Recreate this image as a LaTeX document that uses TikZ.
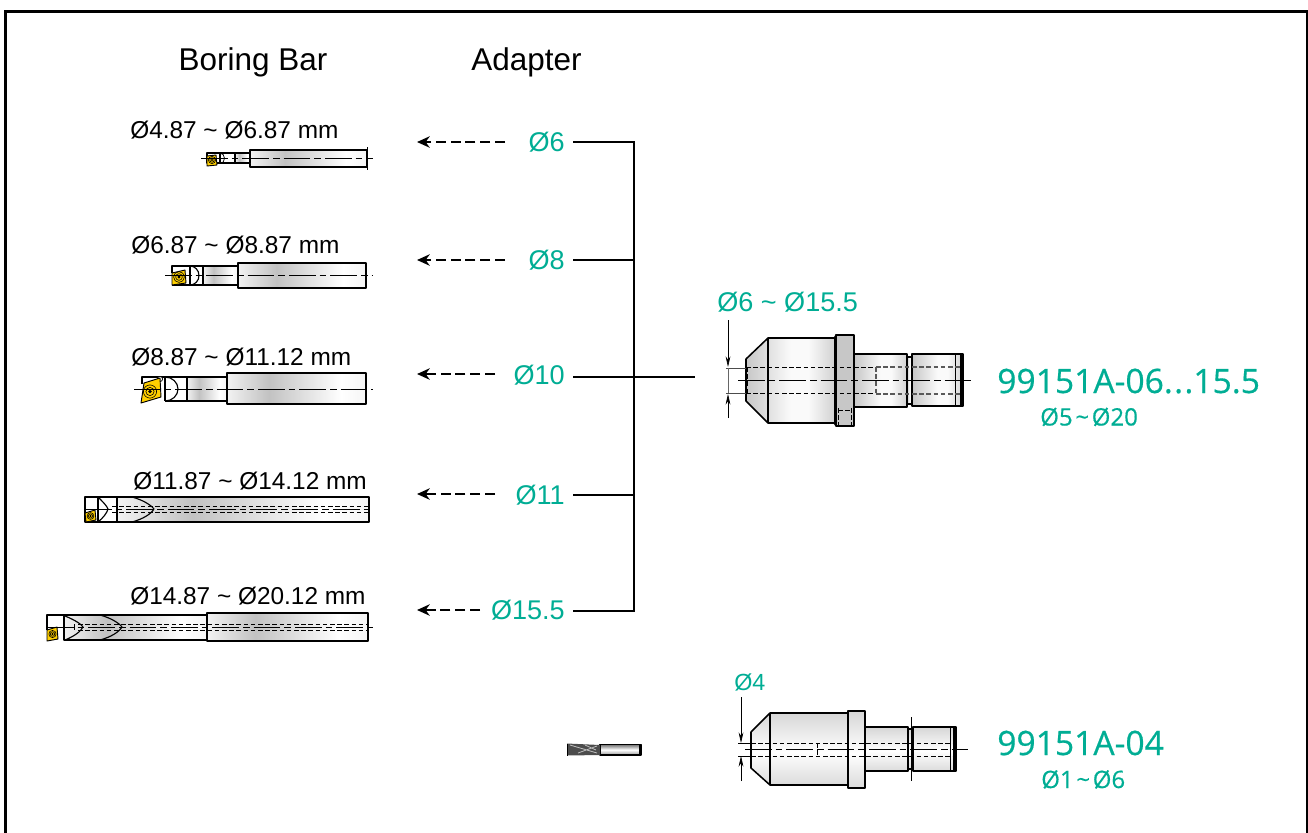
\documentclass[tikz,border=0pt]{standalone}
\usepackage{fontspec}
\setmainfont{Liberation Sans}
\newfontfamily\modelfont[RawFeature={embolden=0.5}]{Open Sans}
\usetikzlibrary{arrows.meta}
\definecolor{teal1}{HTML}{00AD94}
\definecolor{ins}{HTML}{FFD000}
\pgfdeclarehorizontalshading{barH}{100bp}{rgb(0bp)=(0.95,0.95,0.95);rgb(25bp)=(0.95,0.95,0.95);rgb(40bp)=(0.76,0.76,0.76);rgb(66bp)=(1,1,1);rgb(75bp)=(0.96,0.96,0.96);rgb(100bp)=(0.96,0.96,0.96)}
\pgfdeclarehorizontalshading{adpH}{100bp}{rgb(0bp)=(0.78,0.78,0.78);rgb(25bp)=(0.78,0.78,0.78);rgb(50bp)=(0.98,0.98,0.98);rgb(60bp)=(0.98,0.98,0.98);rgb(75bp)=(0.82,0.82,0.82);rgb(100bp)=(0.82,0.82,0.82)}
\pgfdeclareverticalshading{adpV}{100bp}{rgb(0bp)=(0.86,0.86,0.86);rgb(25bp)=(0.86,0.86,0.86);rgb(48bp)=(1,1,1);rgb(75bp)=(0.84,0.84,0.84);rgb(100bp)=(0.84,0.84,0.84)}
\pgfdeclareverticalshading{drillV}{100bp}{rgb(0bp)=(0.6,0.6,0.6);rgb(25bp)=(0.6,0.6,0.6);rgb(50bp)=(1,1,1);rgb(75bp)=(0.45,0.45,0.45);rgb(100bp)=(0.45,0.45,0.45)}
\tikzset{
 hd/.style={font=\fontsize{23.6}{26}\selectfont,inner sep=0pt},
 rng/.style={font=\fontsize{18.3}{20}\selectfont,inner sep=0pt},
 tl/.style={font=\fontsize{20.3}{22}\selectfont,text=teal1,inner sep=0pt},
 tlsmall/.style={font=\fontsize{17.5}{20}\selectfont,text=teal1,inner sep=0pt},
 model/.style={font=\modelfont\fontsize{25.2}{30}\selectfont,text=teal1,inner sep=0pt},
 modelsub/.style={font=\modelfont\fontsize{18}{20}\selectfont,text=teal1,inner sep=0pt},
 bus/.style={line width=2.2pt,black},
 dasharrow/.style={line width=1.7pt,dash pattern=on 7.5pt off 3.6pt,-{Stealth[length=9.5pt,width=8.5pt,inset=3pt]}},
 outl/.style={draw=black,line width=.85pt,line join=round},
 heavy/.style={draw=black,line width=1.15pt,line join=round},
 thin1/.style={draw=black,line width=.55pt},
 hid/.style={draw=black,line width=.7pt,dash pattern=on 3.4pt off 2pt},
 hidg/.style={draw=black!65,line width=.8pt,dash pattern=on 3.4pt off 2pt},
 ctr/.style={draw=black,line width=.55pt,dash pattern=on 20pt off 3pt on 5pt off 3pt},
 dimarrow/.style={draw=black,line width=.55pt,-{Stealth[length=8pt,width=3.6pt]}},
}
\newcommand{\insertshape}[6]{% corners in px, center, radius
 \draw[draw=black,line width=.7pt,line join=round,fill=ins] #1 -- #2 -- #3 -- #4 -- cycle;
 \draw[black,line width=.45pt] #5 circle (#6);
 \draw[black,line width=.45pt] #5 circle ({#6*.62});
 \fill[black] #5 circle ({#6*.3});
}
\newcommand{\tld}{\textasciitilde}
\begin{document}
\begin{tikzpicture}[x=.75pt,y=-.75pt]
\useasboundingbox (0,0) rectangle (1308,832);
\draw[black,line width=2.2pt,line cap=butt] (5.5,834) -- (5.5,11.5) -- (1307,11.5) -- (1307,834);

% headings
\node[hd,anchor=base] (hbar) at (253,70.5) {Boring Bar};
\node[hd,anchor=base] (hadp) at (526.5,70.5) {Adapter};

% range labels
\node[rng,anchor=base west] (r1) at (130,138) {Ø4.87 \tld{} Ø6.87 mm};
\node[rng,anchor=base west] (r2) at (131,253) {Ø6.87 \tld{} Ø8.87 mm};
\node[rng,anchor=base west] (r3) at (131,365) {Ø8.87 \tld{} Ø11.12 mm};
\node[rng,anchor=base west] (r4) at (133,489) {Ø11.87 \tld{} Ø14.12 mm};
\node[rng,anchor=base west] (r5) at (130,604) {Ø14.87 \tld{} Ø20.12 mm};

% Tool 1
\path[shading=barH,outl] (250,150) rectangle (367,167);
\path[shading=barH,outl] (235,153) rectangle (250,163);
\draw[outl,fill=white] (207,153) rectangle (235,163);
\draw[outl] (220,153) -- (220,164);
\draw[thin1] (220,153) arc (-90:90:4.5 and 5.3);
\insertshape{(207,156)}{(216,155)}{(217,165)}{(207,166)}{(212,160)}{3.6}
\draw[ctr] (201,158) -- (373,158);
\draw[thin1] (367,147) -- (367,170);

% Tool 2
\path[shading=barH,outl] (238,263) rectangle (366,288);
\path[shading=barH,outl] (203,266) rectangle (238,285);
\draw[outl] (172,273) -- (172,266) -- (203,266) -- (203,285) -- (172,285);
\draw[outl] (190,266) -- (190,285);
\draw[outl] (190,266) arc (-90:90:9 and 9.5);
\insertshape{(172,273)}{(185,270)}{(186,283)}{(172,285)}{(179,277)}{5.4}
\draw[ctr] (165,275) -- (373,275);

% Tool 3
\path[shading=barH,outl] (227,373) rectangle (366,404);
\path[shading=barH,outl] (187,377) rectangle (227,401);
\draw[outl] (142,384) -- (142,377) -- (187,377) -- (187,401) -- (165,401);
\draw[outl] (165,377) -- (165,401);
\draw[outl] (165,377) arc (-90:90:13 and 12);
\draw[thin1,fill=white] (160,379) circle (2.6);
\insertshape{(144,383)}{(160,378)}{(161,397)}{(141,403)}{(150,391.5)}{6.6}
\draw[ctr] (134,389) -- (373,389);

% Tool 4
\path[shading=barH,outl] (117,497) rectangle (369,522);
\draw[outl] (85,497) rectangle (117,522);
\draw[outl] (98,497) -- (98,522);
\draw[outl] (98,497) .. controls (103,502) and (107,506) .. (108,509) .. controls (107,513) and (103,518) .. (98,522);
\draw[outl] (132,497) .. controls (143,500) and (151,505) .. (154,509) .. controls (151,514) and (143,519) .. (132,522);
\insertshape{(85,513)}{(95,510)}{(96,520)}{(86,522)}{(90.5,516)}{3.4}
\draw[hid] (112,506) -- (369,506); \draw[hid] (112,512) -- (369,512);
\draw[ctr] (85,509) -- (373,509);

% Tool 5
\path[shading=barH,outl] (64,615) rectangle (207,640);
\path[shading=barH,outl] (207,613) rectangle (368,641);
\draw[outl] (47,630) -- (47,615) -- (64,615);
\draw[outl] (65,616) .. controls (75,620) and (81,624) .. (83,627) .. controls (81,631) and (75,636) .. (65,640);
\draw[outl] (100,615) .. controls (111,618) and (119,623) .. (122,627) .. controls (119,632) and (111,637) .. (100,640);
\insertshape{(47,630)}{(57,627)}{(58,639)}{(47,641)}{(52.5,634)}{3.6}
\draw[hid] (78,624) -- (368,624); \draw[hid] (78,630) -- (368,630);
\draw[ctr] (47,627) -- (373,627);
\draw[thin1] (74,624) -- (74,630);

% Upper adapter
\path[shading=adpH,heavy] (746,359) -- (768,338) -- (835,338) -- (835,423) -- (768,423) -- (746,401) -- cycle;
\draw[outl] (768,338) -- (768,423);
\path[fill=black!22,heavy] (836,335) -- (854,335) -- (854,426) -- (836,426) -- cycle;
\draw[outl] (834,338) -- (836,335) (834,423) -- (836,426);
\path[shading=adpH,heavy] (854,354) -- (907,354) -- (907,407) -- (854,407) -- cycle;
\path[shading=adpH,heavy] (907,357) rectangle (912,404);
\path[shading=adpH,heavy] (912,354) -- (963,354) -- (963,406) -- (912,406) -- cycle;
\draw[thin1] (955,354) -- (955,406);
\fill[black] (960,355) rectangle (963,405);
\fill[black] (852.5,355) rectangle (855,406);
\draw[hid] (746,367) -- (876,367); \draw[hid] (746,393) -- (876,393);
\draw[hidg] (876,367) -- (962,367); \draw[hidg] (876,394) -- (962,394);
\draw[hidg] (876,367) -- (876,394);
\draw[hid] (747,367) -- (747,393);
\draw[hid] (838,408) -- (838,426); \draw[hid] (851,408) -- (851,426);
\draw[hid] (838,410) -- (851,410);
\draw[ctr] (738,380) -- (972,380);
% dimension
\coordinate (dtopA) at (728,320); \coordinate (dtopB) at (728,367);
\coordinate (dbotA) at (728,418); \coordinate (dbotB) at (728,394);
\draw[dimarrow] (dtopA) -- (dtopB);
\draw[dimarrow] (dbotA) -- (dbotB);
\draw[thin1,draw=black!70] (726,368) -- (746,368) (726,393) -- (746,393);
\draw[draw=black!60,line width=.6pt] (728,368) -- (728,393);
\node[tl,anchor=base west] (d6) at (717,311) {Ø6 \tld{} Ø15.5};
\node[model,anchor=base west] (m1) at (997,393) {99151A-06.\kern1pt.\kern1pt.15.5};
\node[modelsub,anchor=base west] (m1s) at (1040,425.5) {Ø5\kern2pt\tld{}\kern2pt Ø20};

% Lower adapter
\path[shading=adpV,heavy] (751,732) -- (770,713) -- (848,713) -- (848,785) -- (770,785) -- (751,768) -- cycle;
\draw[outl] (770,713) -- (770,785);
\path[shading=adpV,heavy] (848,711) rectangle (865,788);
\path[shading=adpV,heavy] (865,727) rectangle (908,771);
\path[shading=adpV,heavy] (908,729) rectangle (913,769);
\path[shading=adpV,heavy] (913,727) rectangle (956,771);
\draw[thin1] (950,727) -- (950,771);
\fill[black] (953,728) rectangle (956,770);
\draw[thin1] (911,717) -- (911,781);
\draw[hid] (751,743) -- (955,743); \draw[hid] (751,756) -- (955,756);
\draw[hid] (817,743) -- (817,756);
\draw[ctr] (745,749) -- (968,749);
\coordinate (etopA) at (741,697); \coordinate (etopB) at (741,743);
\coordinate (ebotA) at (741,781); \coordinate (ebotB) at (741,756);
\draw[dimarrow] (etopA) -- (etopB);
\draw[dimarrow] (ebotA) -- (ebotB);
\draw[thin1] (738,743) -- (753,743) (738,756) -- (753,756);
\node[tlsmall,anchor=base west] (d4) at (734,690) {Ø4};
\node[model,anchor=base west] (m2) at (997,755) {99151A-04};
\node[modelsub,anchor=base west] (m2s) at (1041,788) {Ø1\kern2pt\tld{}\kern2pt Ø6};

% Drill
\path[shading=drillV,outl] (600,744.5) rectangle (641,755);
\fill[black] (638.5,744.5) rectangle (641,755);
\fill[black!70] (567,743.5) -- (600,745) -- (600,755) -- (567,755.5) -- cycle;
\draw[black!25,line width=.6pt] (570,745) -- (597,753) (578,753) -- (597,746) (585,745) -- (596,750);
\draw[black,line width=.7pt] (567,743.5) -- (567,755.5);

% Adapter size labels
\node[tl,anchor=base east] (a6) at (565,151) {Ø6};
\node[tl,anchor=base east] (a8) at (565,269.5) {Ø8};
\node[tl,anchor=base east] (a10) at (565,384) {Ø10};
\node[tl,anchor=base east] (a11) at (565,504) {Ø11};
\node[tl,anchor=base east] (a15) at (565,619) {Ø15.5};

% bus junctions
\coordinate (j6) at (634,142);
\coordinate (j8) at (634,260);
\coordinate (j10) at (634,377);
\coordinate (j11) at (634,495);
\coordinate (j15) at (634,611);
\coordinate (s6) at (573,142);
\coordinate (s8) at (573,260);
\coordinate (s10) at (573,377);
\coordinate (s11) at (573,495);
\coordinate (s15) at (573,611);
\coordinate (adpin) at (695,377);
\draw[bus,line join=miter] (s6) -- (j6) -- (j15) -- (s15);
\draw[bus] (s8) -- (j8);
\draw[bus] (s10) -- (adpin);
\draw[bus] (s11) -- (j11);

% dashed arrows
\coordinate (t6) at (417,142); \coordinate (f6) at (505,142);
\coordinate (t8) at (417,260); \coordinate (f8) at (505,260);
\coordinate (t10) at (417,374); \coordinate (f10) at (495,374);
\coordinate (t11) at (417,494); \coordinate (f11) at (495,494);
\coordinate (t15) at (417,610); \coordinate (f15) at (480,610);
\draw[dasharrow] (f6) -- (t6);
\draw[dasharrow] (f8) -- (t8);
\draw[dasharrow] (f10) -- (t10);
\draw[dasharrow] (f11) -- (t11);
\draw[dasharrow] (f15) -- (t15);
\end{tikzpicture}
\end{document}
